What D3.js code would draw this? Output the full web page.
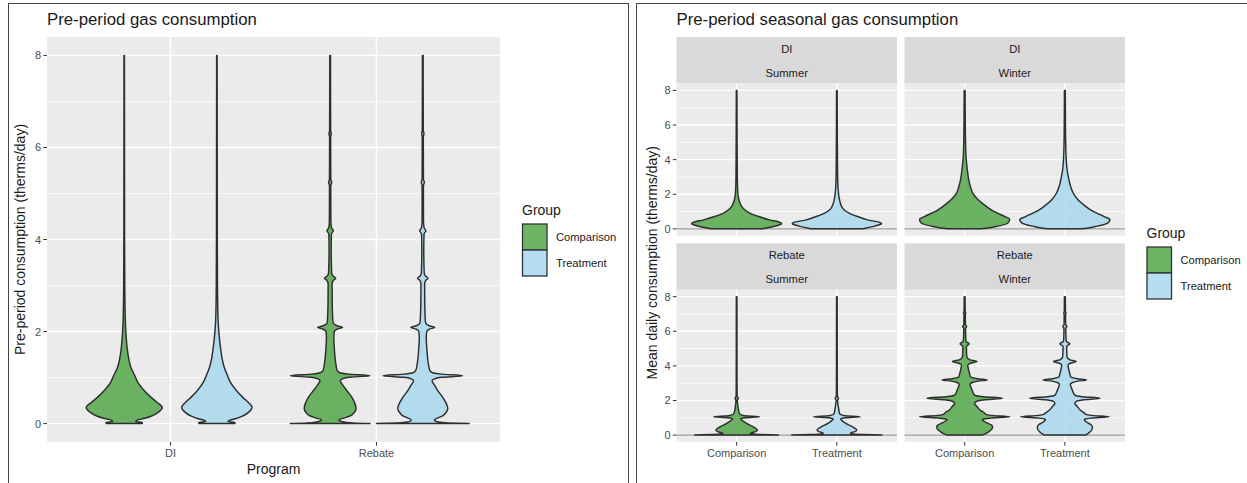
<!DOCTYPE html>
<html>
<head>
<meta charset="utf-8">
<script src="https://cdn.jsdelivr.net/npm/d3@7"></script>
<style>
  body { margin: 0; background: #fff; }
  svg { display: block; font-family: "Liberation Sans", Arial, Helvetica, sans-serif; }
</style>
</head>
<body>
<svg id="chart" width="1247" height="483"></svg>
<script>
// ---- data ----
const groups = ["Comparison", "Treatment"];
const programs = ["DI", "Rebate"];
const seasons = ["Summer", "Winter"];
const yTicks = [0, 2, 4, 6, 8];
const yMinor = [1, 3, 5, 7];
const yDomain = [0, 8];

// violin profiles: [consumption, relative density] (1 = widest violin in panel)
const preDIComparison = [[0,0.39],[0.025,0.39],[0.045,0.25],[0.075,0.28],[0.11,0.42],[0.16,0.58],[0.25,0.74],[0.35,0.82],[0.46,0.71],[0.57,0.58],[0.72,0.43],[0.9,0.29],[1.04,0.23],[1.22,0.145],[1.4,0.1],[1.59,0.07],[1.96,0.037],[2.3,0.022],[3,0.012],[4,0.008],[6,0.006],[8,0.005]];
const preDITreatment = [[0,0.39],[0.025,0.39],[0.045,0.24],[0.075,0.28],[0.11,0.42],[0.17,0.57],[0.26,0.7],[0.35,0.76],[0.46,0.68],[0.57,0.56],[0.72,0.42],[0.9,0.29],[1.04,0.23],[1.22,0.16],[1.4,0.115],[1.59,0.086],[1.96,0.045],[2.3,0.024],[3,0.013],[4,0.009],[6,0.007],[8,0.005]];
const preRebateComparison = [[0,0.86],[0.015,0.5],[0.035,0.3],[0.06,0.21],[0.085,0.19],[0.12,0.3],[0.17,0.44],[0.24,0.52],[0.33,0.56],[0.45,0.53],[0.57,0.47],[0.72,0.36],[0.84,0.27],[0.93,0.22],[0.97,0.26],[1.005,0.4],[1.04,0.86],[1.075,0.4],[1.11,0.2],[1.16,0.15],[1.3,0.123],[1.59,0.093],[1.88,0.08],[2.0,0.09],[2.055,0.16],[2.09,0.27],[2.125,0.15],[2.18,0.07],[2.24,0.058],[2.67,0.045],[3.04,0.043],[3.11,0.07],[3.16,0.12],[3.21,0.06],[3.28,0.033],[3.76,0.023],[4.12,0.028],[4.19,0.068],[4.26,0.028],[4.4,0.016],[5.17,0.014],[5.24,0.034],[5.31,0.014],[6.23,0.011],[6.3,0.025],[6.37,0.011],[8,0.008]];
const preRebateTreatment = [[0,1.0],[0.015,0.55],[0.035,0.33],[0.06,0.26],[0.085,0.25],[0.12,0.32],[0.17,0.43],[0.24,0.5],[0.33,0.54],[0.45,0.5],[0.57,0.43],[0.72,0.32],[0.84,0.25],[0.93,0.2],[0.97,0.25],[1.005,0.4],[1.04,0.86],[1.075,0.4],[1.11,0.2],[1.16,0.15],[1.3,0.12],[1.59,0.09],[1.88,0.075],[2.0,0.085],[2.055,0.15],[2.09,0.26],[2.125,0.14],[2.18,0.065],[2.24,0.055],[2.67,0.042],[3.04,0.04],[3.11,0.065],[3.16,0.11],[3.21,0.055],[3.28,0.03],[3.76,0.021],[4.12,0.027],[4.19,0.066],[4.26,0.027],[4.4,0.015],[5.17,0.014],[5.24,0.033],[5.31,0.014],[6.23,0.011],[6.3,0.025],[6.37,0.011],[8,0.008]];

const seasDISummerComparison = [[0,0.56],[0.05,0.66],[0.13,0.82],[0.22,0.94],[0.3,1.0],[0.38,0.95],[0.52,0.73],[0.71,0.49],[0.91,0.29],[1.1,0.18],[1.3,0.11],[1.59,0.06],[1.88,0.035],[2.3,0.022],[3,0.015],[4.5,0.011],[6,0.009],[8,0.007]];
const seasDISummerTreatment = [[0,0.58],[0.05,0.66],[0.13,0.8],[0.22,0.92],[0.3,0.99],[0.38,0.94],[0.52,0.68],[0.71,0.46],[0.91,0.27],[1.1,0.16],[1.3,0.105],[1.59,0.067],[1.88,0.045],[2.3,0.028],[3,0.017],[4.5,0.012],[6,0.009],[8,0.007]];
const seasDIWinterComparison = [[0,0.37],[0.03,0.47],[0.135,0.7],[0.33,0.96],[0.56,1.0],[0.71,0.89],[0.91,0.73],[1.1,0.59],[1.3,0.48],[1.68,0.3],[2.07,0.18],[2.45,0.127],[2.84,0.09],[3.4,0.06],[4.2,0.03],[5,0.02],[6.5,0.013],[8,0.01]];
const seasDIWinterTreatment = [[0,0.38],[0.03,0.48],[0.135,0.68],[0.33,0.95],[0.52,1.0],[0.71,0.87],[0.91,0.71],[1.1,0.57],[1.3,0.46],[1.68,0.29],[2.07,0.185],[2.45,0.127],[2.84,0.09],[3.4,0.05],[4.2,0.027],[5,0.018],[6.5,0.012],[8,0.01]];
const seasRebateSummerComparison = [[0,0.93],[0.03,0.55],[0.06,0.35],[0.09,0.3],[0.14,0.34],[0.2,0.42],[0.29,0.46],[0.38,0.43],[0.48,0.37],[0.58,0.29],[0.68,0.22],[0.78,0.16],[0.87,0.11],[0.94,0.09],[1.0,0.2],[1.06,0.51],[1.12,0.18],[1.19,0.08],[1.26,0.06],[1.45,0.04],[1.64,0.03],[2.0,0.015],[2.13,0.035],[2.25,0.012],[3,0.009],[5,0.008],[8,0.007]];
const seasRebateSummerTreatment = [[0,1.0],[0.03,0.58],[0.06,0.36],[0.09,0.3],[0.14,0.32],[0.2,0.4],[0.29,0.44],[0.38,0.41],[0.48,0.35],[0.58,0.27],[0.68,0.2],[0.78,0.14],[0.87,0.1],[0.94,0.085],[1.0,0.2],[1.06,0.52],[1.12,0.18],[1.19,0.08],[1.26,0.06],[1.45,0.045],[1.64,0.033],[2.0,0.016],[2.13,0.035],[2.25,0.012],[3,0.009],[5,0.008],[8,0.007]];
const seasRebateWinterComparison = [[0,0.39],[0.08,0.47],[0.19,0.53],[0.33,0.6],[0.48,0.62],[0.6,0.58],[0.7,0.5],[0.8,0.43],[0.88,0.39],[0.93,0.42],[0.98,0.58],[1.06,1.0],[1.14,0.58],[1.2,0.47],[1.28,0.44],[1.45,0.34],[1.64,0.28],[1.83,0.22],[1.94,0.26],[2.04,0.44],[2.13,0.84],[2.22,0.4],[2.31,0.22],[2.5,0.18],[2.7,0.15],[2.93,0.12],[3.04,0.17],[3.12,0.3],[3.19,0.5],[3.26,0.28],[3.36,0.13],[3.55,0.11],[3.8,0.085],[4.04,0.07],[4.15,0.13],[4.25,0.27],[4.35,0.12],[4.5,0.05],[4.8,0.042],[5.13,0.04],[5.28,0.1],[5.42,0.03],[5.8,0.022],[6.18,0.02],[6.28,0.045],[6.38,0.018],[6.97,0.015],[7.05,0.025],[7.13,0.013],[8,0.01]];
const seasRebateWinterTreatment = [[0,0.46],[0.08,0.51],[0.19,0.56],[0.33,0.6],[0.48,0.61],[0.6,0.58],[0.7,0.51],[0.8,0.46],[0.88,0.43],[0.93,0.45],[0.98,0.58],[1.06,0.98],[1.14,0.58],[1.2,0.47],[1.28,0.43],[1.45,0.34],[1.64,0.28],[1.83,0.22],[1.94,0.25],[2.04,0.42],[2.13,0.78],[2.22,0.38],[2.31,0.22],[2.5,0.18],[2.7,0.15],[2.93,0.12],[3.04,0.17],[3.12,0.29],[3.19,0.48],[3.26,0.27],[3.36,0.13],[3.55,0.11],[3.8,0.085],[4.04,0.07],[4.15,0.12],[4.25,0.25],[4.35,0.11],[4.5,0.05],[4.8,0.042],[5.13,0.04],[5.28,0.11],[5.42,0.03],[5.8,0.022],[6.18,0.02],[6.28,0.045],[6.38,0.018],[6.97,0.015],[7.05,0.025],[7.13,0.013],[8,0.01]];

const preViolins = {
  DI: { Comparison: preDIComparison, Treatment: preDITreatment },
  Rebate: { Comparison: preRebateComparison, Treatment: preRebateTreatment }
};
const seasViolins = {
  DI: {
    Summer: { Comparison: seasDISummerComparison, Treatment: seasDISummerTreatment },
    Winter: { Comparison: seasDIWinterComparison, Treatment: seasDIWinterTreatment }
  },
  Rebate: {
    Summer: { Comparison: seasRebateSummerComparison, Treatment: seasRebateSummerTreatment },
    Winter: { Comparison: seasRebateWinterComparison, Treatment: seasRebateWinterTreatment }
  }
};

// ---- style ----
const fillColor = d3.scaleOrdinal().domain(groups).range(["#53a84a", "#a8d8ee"]);
const panelBg = "#ebebeb";
const stripBg = "#d9d9d9";
const tickColor = "#4d4d4d";
const textColor = "#1a1a1a";

const svg = d3.select("#chart");

// expand like ggplot (5% each side)
const pad = (yDomain[1] - yDomain[0]) * 0.05;

function drawPanel(g, x0, x1, y0, y1, y, xs) {
  g.append("rect").attr("x", x0).attr("y", y0).attr("width", x1 - x0).attr("height", y1 - y0).attr("fill", panelBg);
  g.selectAll(".minor").data(yMinor).enter().append("line")
    .attr("x1", x0).attr("x2", x1).attr("y1", d => y(d)).attr("y2", d => y(d))
    .attr("stroke", "#fff").attr("stroke-width", 0.7);
  g.selectAll(".major").data(yTicks).enter().append("line")
    .attr("x1", x0).attr("x2", x1).attr("y1", d => y(d)).attr("y2", d => y(d))
    .attr("stroke", "#fff").attr("stroke-width", 1.4);
  g.selectAll(".vmajor").data(xs.domain()).enter().append("line")
    .attr("x1", d => xs(d)).attr("x2", d => xs(d)).attr("y1", y0).attr("y2", y1)
    .attr("stroke", "#fff").attr("stroke-width", 1.4);
}

function drawViolin(g, profile, cx, half, y, fill) {
  const area = d3.area()
    .y(d => y(d[0]))
    .x0(d => cx - half(d[1]))
    .x1(d => cx + half(d[1]))
    .curve(d3.curveMonotoneY);
  g.append("path").attr("d", area(profile))
    .attr("fill", fill).attr("fill-opacity", 0.85)
    .attr("stroke", "#2e2e2e").attr("stroke-width", 1.45).attr("stroke-linejoin", "round");
}

function yAxisLabels(g, x, y) {
  g.selectAll(".tk").data(yTicks).enter().append("line")
    .attr("x1", x - 3.7).attr("x2", x).attr("y1", d => y(d)).attr("y2", d => y(d))
    .attr("stroke", "#333").attr("stroke-width", 1);
  g.selectAll(".tl").data(yTicks).enter().append("text")
    .attr("x", x - 6).attr("y", d => y(d) + 4)
    .attr("text-anchor", "end").attr("font-size", 11).attr("fill", tickColor)
    .text(d => d);
}

function xAxisLabels(g, xs, y1) {
  g.selectAll(".xt").data(xs.domain()).enter().append("line")
    .attr("x1", d => xs(d)).attr("x2", d => xs(d)).attr("y1", y1).attr("y2", y1 + 3.7)
    .attr("stroke", "#333").attr("stroke-width", 1);
  g.selectAll(".xl").data(xs.domain()).enter().append("text")
    .attr("x", d => xs(d)).attr("y", y1 + 15)
    .attr("text-anchor", "middle").attr("font-size", 11).attr("fill", tickColor)
    .text(d => d);
}

function legend(g, x, y) {
  g.append("text").attr("x", x).attr("y", y).attr("font-size", 14).attr("fill", textColor).text("Group");
  const ky = d3.scaleBand().domain(groups).range([y + 9, y + 61]);
  g.selectAll(".key").data(groups).enter().append("rect")
    .attr("x", x + 0.5).attr("y", d => ky(d)).attr("width", 24.5).attr("height", ky.bandwidth())
    .attr("fill", d => fillColor(d)).attr("fill-opacity", 0.85)
    .attr("stroke", "#333").attr("stroke-width", 1.3);
  g.selectAll(".klab").data(groups).enter().append("text")
    .attr("x", x + 34).attr("y", d => ky(d) + ky.bandwidth() / 2 + 4)
    .attr("font-size", 11.2).attr("fill", textColor).text(d => d);
}

// ---- frames ----
svg.append("rect").attr("x", 8.5).attr("y", 3.5).attr("width", 620).attr("height", 500)
  .attr("fill", "none").attr("stroke", "#444").attr("stroke-width", 1);
svg.append("rect").attr("x", 636.5).attr("y", 3.5).attr("width", 640).attr("height", 500)
  .attr("fill", "none").attr("stroke", "#444").attr("stroke-width", 1);

// ---- left chart ----
{
  const P = { x0: 47, x1: 500, y0: 37, y1: 442 };
  const g = svg.append("g");
  const y = d3.scaleLinear().domain([yDomain[0] - pad, yDomain[1] + pad]).range([P.y1, P.y0]);
  const x = d3.scalePoint().domain(programs).range([P.x0, P.x1]).padding(0.6);
  const dodge = d3.scaleBand().domain(groups).range([-0.45 * x.step(), 0.45 * x.step()]);
  const half = d3.scaleLinear().domain([0, 1]).range([0, dodge.bandwidth() / 2]);

  drawPanel(g, P.x0, P.x1, P.y0, P.y1, y, x);
  programs.forEach(p => groups.forEach(gr => {
    const cx = x(p) + dodge(gr) + dodge.bandwidth() / 2;
    drawViolin(g, preViolins[p][gr], cx, half, y, fillColor(gr));
  }));
  yAxisLabels(g, P.x0, y);
  xAxisLabels(g, x, P.y1);

  g.append("text").attr("x", P.x0).attr("y", 25).attr("font-size", 16.8).attr("fill", textColor)
    .text("Pre-period gas consumption");
  g.append("text").attr("x", (P.x0 + P.x1) / 2).attr("y", 474).attr("text-anchor", "middle")
    .attr("font-size", 14).attr("fill", textColor).text("Program");
  g.append("text").attr("transform", `translate(25,${(P.y0 + P.y1) / 2}) rotate(-90)`)
    .attr("text-anchor", "middle").attr("font-size", 14).attr("fill", textColor)
    .text("Pre-period consumption (therms/day)");
  legend(g, 522, 215);
}

// ---- right chart (facets) ----
{
  const F = { x0: 676.5, x1: 1125, y0: 37, y1: 442, gap: 7.5, strip: 46.5 };
  const g = svg.append("g");
  const col = d3.scaleBand().domain(seasons).range([F.x0, F.x1]).paddingInner(F.gap / ((F.x1 - F.x0 + F.gap) / 2));
  const row = d3.scaleBand().domain(programs).range([F.y0, F.y1]).paddingInner(F.gap / ((F.y1 - F.y0 + F.gap) / 2));

  programs.forEach(p => {
    const top = row(p);
    const py0 = top + F.strip, py1 = top + row.bandwidth();
    const y = d3.scaleLinear().domain([yDomain[0] - pad, yDomain[1] + pad]).range([py1, py0]);
    seasons.forEach(s => {
      const px0 = col(s), px1 = col(s) + col.bandwidth();
      const x = d3.scalePoint().domain(groups).range([px0, px1]).padding(0.6);
      const half = d3.scaleLinear().domain([0, 1]).range([0, 0.45 * x.step()]);
      // strip
      g.append("rect").attr("x", px0).attr("y", top).attr("width", px1 - px0).attr("height", F.strip).attr("fill", stripBg);
      g.append("text").attr("x", (px0 + px1) / 2).attr("y", top + 15.5).attr("text-anchor", "middle")
        .attr("font-size", 11.2).attr("fill", textColor).text(p);
      g.append("text").attr("x", (px0 + px1) / 2).attr("y", top + 39.5).attr("text-anchor", "middle")
        .attr("font-size", 11.2).attr("fill", textColor).text(s);
      drawPanel(g, px0, px1, py0, py1, y, x);
      g.append("line").attr("x1", px0).attr("x2", px1).attr("y1", y(0)).attr("y2", y(0))
        .attr("stroke", "#9a9a9a").attr("stroke-width", 1.2);
      groups.forEach(gr => drawViolin(g, seasViolins[p][s][gr], x(gr), half, y, fillColor(gr)));
      if (p === programs[programs.length - 1]) xAxisLabels(g, x, py1);
    });
    yAxisLabels(g, F.x0, y);
  });

  g.append("text").attr("x", F.x0).attr("y", 25).attr("font-size", 16.8).attr("fill", textColor)
    .text("Pre-period seasonal gas consumption");
  g.append("text").attr("transform", `translate(657,${(F.y0 + F.strip + F.y1) / 2}) rotate(-90)`)
    .attr("text-anchor", "middle").attr("font-size", 14).attr("fill", textColor)
    .text("Mean daily consumption (therms/day)");
  legend(g, 1146.5, 238);
}
</script>
</body>
</html>
